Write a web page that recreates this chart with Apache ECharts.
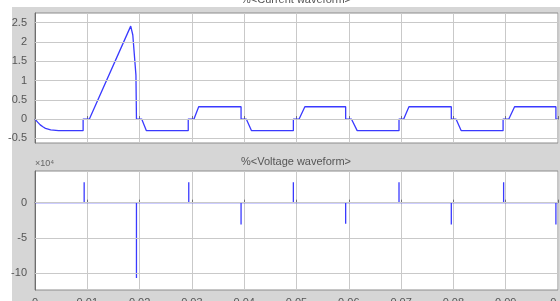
<!DOCTYPE html>
<html>
<head>
<meta charset="utf-8">
<script src="https://cdn.jsdelivr.net/npm/echarts@6/dist/echarts.min.js"></script>
<style>
    html, body { margin: 0; padding: 0; background: #fff; }
    #chart { width: 560px; height: 301px; }
</style>
</head>
<body>
<div id="chart"></div>
<script>
// 电流波形 (时间 s, 电流)
var currentT = [0, 0.0005, 0.001, 0.0015, 0.002, 0.003, 0.0045, 0.0092, 0.0092, 0.0104, 0.0183, 0.0187, 0.0193, 0.0194,
    0.0204, 0.0213, 0.0293, 0.0293, 0.0304, 0.0313, 0.0394, 0.0394, 0.0404, 0.0414, 0.0494, 0.0494, 0.0505, 0.0516,
    0.0594, 0.0594, 0.0605, 0.0616, 0.0696, 0.0696, 0.0705, 0.0715, 0.0796, 0.0796, 0.0805, 0.0815, 0.0895, 0.0895,
    0.0906, 0.0917, 0.0996, 0.0996, 0.1];
var currentI = [0, -0.08, -0.15, -0.2, -0.24, -0.28, -0.3, -0.3, 0, 0, 2.41, 2.18, 1.14, 0,
    0, -0.3, -0.3, 0, 0, 0.32, 0.32, 0, 0, -0.3, -0.3, 0, 0, 0.32,
    0.32, 0, 0, -0.3, -0.3, 0, 0, 0.32, 0.32, 0, 0, -0.3, -0.3, 0,
    0, 0.32, 0.32, 0, 0];
// 电压尖峰 (时间 s, 电压 V)
var spikeT = [0.0094, 0.0194, 0.0294, 0.0394, 0.0494, 0.0594, 0.0696, 0.0796, 0.0896, 0.0996];
var spikeV = [29000, -107000, 29000, -31000, 29000, -30000, 29000, -31000, 29000, -31000];
// 刻度
var currentTicks = [-0.5, 0, 0.5, 1, 1.5, 2, 2.5];
var voltTicks = [-100000, -50000, 0];

var currentData = currentT.map(function (t, i) { return [t, currentI[i]]; });
var voltData = [[0, 0]];
for (let i = 0; i < spikeT.length; i++) {
    voltData.push([spikeT[i], 0], [spikeT[i], spikeV[i]], [spikeT[i], 0]);
}
voltData.push([0.1, 0]);

var font = 'Liberation Sans';
var gridColor = '#c9c9c9';

function xAxisOf(idx, showLabel) {
    return {
        type: 'value', gridIndex: idx, min: 0, max: 0.1, interval: 0.01,
        axisLine: { show: true, lineStyle: { color: '#6e6e6e' } },
        axisTick: { show: true, inside: true, length: 3, lineStyle: { color: '#6e6e6e' } },
        axisLabel: {
            show: showLabel, color: '#555', fontSize: 11, fontFamily: font, margin: 7,
            formatter: function (v) { return String(parseFloat(v.toFixed(2))); }
        },
        splitLine: { show: true, lineStyle: { color: gridColor, width: 1 } }
    };
}
function yAxisOf(idx, min, max, ticks, fmt) {
    return {
        type: 'value', gridIndex: idx, min: min, max: max,
        axisLine: { show: true, lineStyle: { color: '#6e6e6e' } },
        axisTick: { show: true, inside: true, length: 3, customValues: ticks, lineStyle: { color: '#6e6e6e' } },
        axisLabel: { color: '#555', fontSize: 11, fontFamily: font, margin: 8, customValues: ticks, formatter: fmt },
        splitLine: { show: false }
    };
}
// 横向网格线 (放在底层的空系列里)
function gridLines(idx, ticks) {
    return {
        type: 'line', xAxisIndex: idx, yAxisIndex: idx, data: [], z: 1, silent: true,
        markLine: {
            silent: true, symbol: 'none', label: { show: false }, animation: false,
            lineStyle: { color: gridColor, type: 'solid', width: 1 },
            data: ticks.map(function (v) { return { yAxis: v }; })
        }
    };
}

var chart = echarts.init(document.getElementById('chart'));
var option = {
    animation: false,
    backgroundColor: '#fff',
    graphic: [
        { type: 'rect', z: -10, shape: { x: 12, y: 7, width: 560, height: 310 }, style: { fill: '#d6d6d6' } },
        { type: 'text', x: 35, y: 159, z: 10, style: { text: '×10⁴', fill: '#666', font: '9px ' + font } },
        { type: 'text', x: 296, y: -6, z: 10, style: { text: '%<Current waveform>', fill: '#555', font: '11px ' + font, textAlign: 'center' } },
        { type: 'text', x: 296, y: 156, z: 10, style: { text: '%<Voltage waveform>', fill: '#555', font: '11px ' + font, textAlign: 'center' } }
    ],
    grid: [
        { left: 35, top: 13, width: 523, height: 130, outerBoundsMode: 'none', containLabel: false,
          show: true, backgroundColor: '#fff', borderColor: '#8c8c8c', borderWidth: 1 },
        { left: 35, top: 171, width: 523, height: 119, outerBoundsMode: 'none', containLabel: false,
          show: true, backgroundColor: '#fff', borderColor: '#8c8c8c', borderWidth: 1 }
    ],
    xAxis: [xAxisOf(0, false), xAxisOf(1, true)],
    yAxis: [
        yAxisOf(0, -0.62, 2.75, currentTicks),
        yAxisOf(1, -124000, 45000, voltTicks, function (v) { return String(Math.round(v / 10000)); })
    ],
    series: [
        gridLines(0, currentTicks),
        gridLines(1, voltTicks),
        {
            type: 'line', xAxisIndex: 0, yAxisIndex: 0, data: currentData, z: 3,
            showSymbol: false, lineStyle: { color: '#3a3aff', width: 1.3 }
        },
        {
            type: 'line', xAxisIndex: 1, yAxisIndex: 1, data: voltData, z: 3,
            showSymbol: false, lineStyle: { color: '#3a3aff', width: 1.3 }
        }
    ]
};
chart.setOption(option);
</script>
</body>
</html>
